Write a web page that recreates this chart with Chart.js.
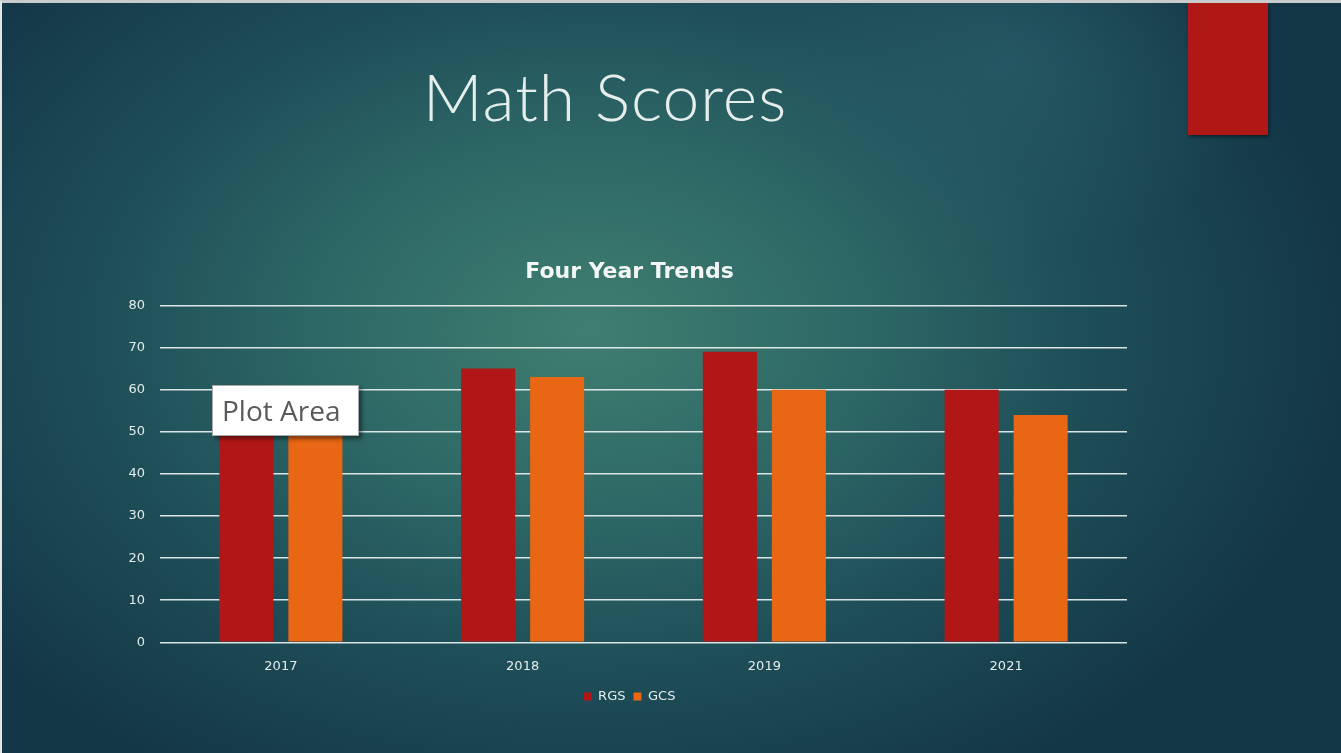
<!DOCTYPE html>
<html>
<head>
<meta charset="utf-8">
<script src="https://cdn.jsdelivr.net/npm/chart.js@4.4.1/dist/chart.umd.min.js"></script>
<style>
  html, body { margin: 0; padding: 0; }
  body {
    width: 1341px; height: 753px; overflow: hidden; position: relative;
    box-sizing: border-box;
    border-top: 3px solid #c9cccc; border-left: 2px solid #e4e6e6;
    background:
      radial-gradient(ellipse 260px 200px at 1010px 60px, rgba(44,100,112,0.55), rgba(44,100,112,0) 100%),
      radial-gradient(ellipse 760px 520px at 590px 330px, #3f7e70 0%, #2e6866 35%, #1e4e58 65%, #143747 100%);
  }
  #slideTitle {
    position: absolute; left: 0; width: 1206px; top: 53px; text-align: center;
    font-family: Lato, "Open Sans", sans-serif; font-weight: 300; font-size: 66px;
    color: #e6eeec; letter-spacing: 1px;
  }
  #accent {
    position: absolute; left: 1186px; top: 0; width: 80px; height: 132px;
    background: #b01815; box-shadow: 1px 2px 3px rgba(0,0,0,0.45);
  }
  #wrap { position: absolute; left: 0; top: 0; width: 1339px; height: 750px; }
  #tip {
    position: absolute; left: 210px; top: 382px; width: 147px; height: 51px;
    box-sizing: border-box; background: #fff; border: 1px solid #a9a9a9;
    box-shadow: 3px 3px 4px rgba(0,0,0,0.45);
    font-family: "Open Sans", "Noto Sans", sans-serif; font-size: 28px; color: #5a5a5a;
    padding-left: 9px; line-height: 49px; white-space: nowrap;
  }
</style>
</head>
<body>
<div id="slideTitle">Math Scores</div>
<div id="accent"></div>
<div id="wrap"><canvas id="scoreChart"></canvas></div>
<div id="tip">Plot Area</div>
<script>
// ข้อมูลกราฟ
const years = ['2017', '2018', '2019', '2021'];
const rgsScores = [57, 65, 69, 60];
const gcsScores = [55, 63, 60, 54];
const yTicks = [0, 10, 20, 30, 40, 50, 60, 70, 80];

const textColor = '#e3ecea';
const gridColor = 'rgba(236,242,241,0.92)';

function renderScoreChart() {
    const ctx = document.getElementById('scoreChart').getContext('2d');
    new Chart(ctx, {
        type: 'bar',
        data: {
            labels: years,
            datasets: [
                { label: 'RGS', data: rgsScores, backgroundColor: '#b11716' },
                { label: 'GCS', data: gcsScores, backgroundColor: '#e86614' }
            ]
        },
        options: {
            responsive: true,
            maintainAspectRatio: false,
            animation: false,
            categoryPercentage: 0.571,
            barPercentage: 0.783,
            layout: { padding: { left: 96, right: 180, top: 256, bottom: 40 } },
            scales: {
                x: {
                    grid: { display: false },
                    border: { display: false },
                    ticks: { color: textColor, font: { family: 'DejaVu Sans', size: 13 }, padding: 8 }
                },
                y: {
                    min: 0, max: 80,
                    afterBuildTicks: (axis) => { axis.ticks = yTicks.map(v => ({ value: v })); },
                    afterFit: (axis) => { axis.width = 62; },
                    grid: { color: gridColor, lineWidth: 1.6, drawTicks: false },
                    border: { display: false },
                    ticks: { color: textColor, font: { family: 'DejaVu Sans', size: 13 }, padding: 15 }
                },
                yRight: {
                    position: 'right',
                    afterFit: (axis) => { axis.width = 34; },
                    grid: { display: false },
                    border: { display: false },
                    ticks: { display: false }
                }
            },
            plugins: {
                title: {
                    display: true,
                    text: 'Four Year Trends',
                    color: '#f2f6f5',
                    font: { family: 'DejaVu Sans', size: 22, weight: 'bold' },
                    padding: { top: 0, bottom: 20 }
                },
                legend: {
                    position: 'bottom',
                    labels: {
                        color: textColor,
                        font: { family: 'DejaVu Sans', size: 13 },
                        boxWidth: 8, boxHeight: 8, padding: 8
                    }
                },
                tooltip: { enabled: false }
            }
        }
    });
}

renderScoreChart();
</script>
</body>
</html>
